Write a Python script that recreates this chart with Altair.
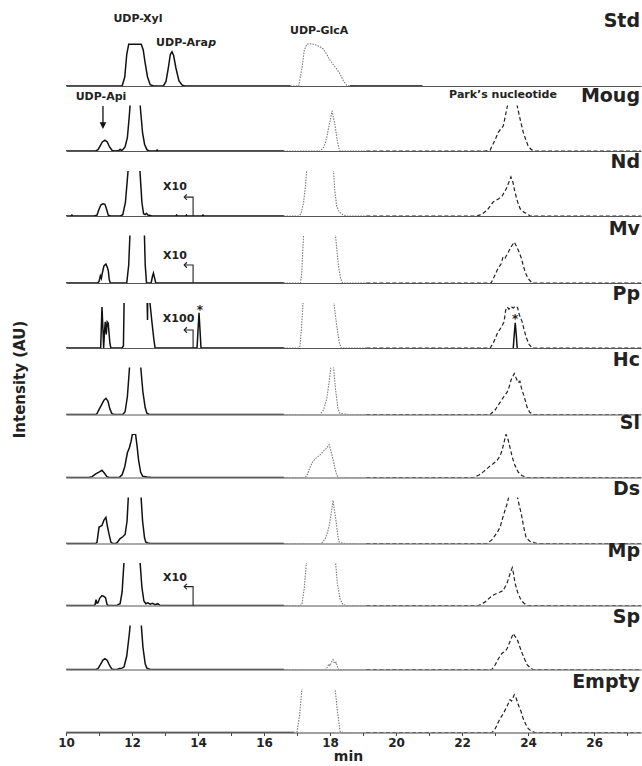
import altair as alt
import pandas as pd

# ---------------- panels ----------------
PANELS = ["Std", "Moug", "Nd", "Mv", "Pp", "Hc", "Sl", "Ds", "Mp", "Sp", "Empty"]
PANEL_HEIGHTS = [45, 45.5, 45, 47.5, 45, 47, 43.5, 46, 42.5, 44, 43.5]
LABEL_V = [131, 109, 107, 107, 107, 107, 107, 107, 107, 103, 99]

X_TICKS = list(range(10, 28))

# ---------------- traces: (min, intensity) ----------------
STD_SOLID = [(10, 0), (11.7, 0), (11.78, 20), (11.84, 70), (11.9, 93), (12.28, 93), (12.34, 80), (12.4, 50),
             (12.47, 20), (12.55, 3), (12.65, 0), (12.95, 0), (13.03, 10), (13.1, 40), (13.16, 70), (13.21, 76),
             (13.26, 68), (13.33, 40), (13.42, 12), (13.52, 2), (13.6, 0), (16.8, 0)]
STD_DOT = [(16.8, 0), (17.05, 0), (17.15, 40), (17.22, 80), (17.3, 93), (17.45, 94), (17.6, 90), (17.7, 87),
           (17.8, 82), (17.9, 70), (18.0, 57), (18.1, 47), (18.2, 38), (18.3, 27), (18.4, 12), (18.5, 2),
           (18.6, 0), (18.8, 0)]
STD_TAIL = [(18.6, 0), (20.8, 0)]

MOUG_SOLID = [(10, 0), (10.9, 0), (10.97, 3), (11.04, 12), (11.1, 20), (11.18, 24), (11.25, 20), (11.32, 9),
              (11.4, 1), (11.5, 0), (11.6, 1), (11.64, 4), (11.68, 1), (11.72, 3), (11.79, 9), (11.86, 30),
              (11.92, 80), (11.97, 130), (12.1, 260), (12.22, 130), (12.26, 90), (12.32, 40), (12.38, 15),
              (12.45, 3), (12.52, 0), (12.74, 0), (12.76, 2), (12.78, 0), (16.6, 0)]
MOUG_DOT = [(16.6, 0), (17.7, 0), (17.8, 8), (17.85, 16), (17.91, 34), (17.97, 57), (18.01, 70), (18.06, 89),
            (18.1, 75), (18.15, 57), (18.21, 27), (18.26, 8), (18.3, 0), (19.1, 0)]
MOUG_DASH = [(19.1, 0), (22.7, 0), (22.85, 2), (23.0, 25), (23.1, 42), (23.25, 56), (23.33, 85), (23.4, 110),
             (23.5, 140), (23.6, 130), (23.67, 100), (23.76, 70), (23.85, 42), (24.0, 11), (24.1, 3),
             (24.2, 0), (27.5, 0)]

ND_SOLID = [(10, 0), (10.16, 0), (10.18, 2), (10.2, 0), (10.85, 0), (10.94, 2), (11.0, 15), (11.06, 25),
            (11.12, 27), (11.18, 26), (11.23, 15), (11.28, 2), (11.35, 0), (11.65, 0), (11.72, 3), (11.8, 30),
            (11.88, 100), (11.95, 250), (12.15, 250), (12.24, 100), (12.3, 30), (12.35, 5), (12.4, 3),
            (12.44, 6), (12.48, 2), (12.55, 1), (12.6, 0), (13.33, 0), (13.35, 2), (13.37, 0), (13.63, 0),
            (13.65, 2), (13.67, 0), (14.13, 0), (14.15, 2), (14.17, 0), (16.6, 0)]
ND_DOT = [(16.6, 0), (17.05, 0), (17.12, 5), (17.2, 31), (17.26, 70), (17.32, 130), (17.5, 200), (17.9, 200),
          (18.08, 130), (18.14, 60), (18.2, 22), (18.28, 9), (18.38, 3), (18.5, 0), (19.1, 0)]
ND_DASH = [(19.1, 0), (22.45, 0), (22.6, 4), (22.76, 13), (22.94, 31), (23.1, 38), (23.21, 44), (23.35, 62),
           (23.48, 87), (23.54, 75), (23.6, 53), (23.68, 32), (23.76, 16), (23.88, 8), (23.97, 5), (24.06, 0),
           (27.5, 0)]

MV_SOLID = [(10, 0), (10.95, 0), (11.0, 3), (11.04, 16), (11.07, 10), (11.1, 22), (11.15, 38), (11.21, 42),
            (11.25, 35), (11.28, 28), (11.31, 8), (11.34, 0), (11.84, 0), (11.9, 40), (11.96, 150),
            (12.0, 300), (12.3, 300), (12.36, 150), (12.4, 40), (12.44, 0), (12.58, 0), (12.62, 15),
            (12.65, 22), (12.68, 12), (12.72, 0), (16.6, 0)]
MV_DOT = [(16.6, 0), (17.1, 0), (17.14, 20), (17.2, 110), (17.3, 250), (18.0, 250), (18.16, 110), (18.25, 40),
          (18.32, 10), (18.38, 0), (19.1, 0)]
MV_DASH = [(19.1, 0), (22.88, 0), (22.98, 15), (23.09, 33), (23.18, 42), (23.24, 58), (23.3, 55), (23.39, 67),
           (23.48, 80), (23.58, 91), (23.63, 84), (23.67, 78), (23.73, 68), (23.79, 56), (23.85, 40),
           (23.91, 24), (24.0, 10), (24.12, 0), (27.5, 0)]

PP_SOLID = [(10, 0), (11.05, 0), (11.09, 91), (11.12, 40), (11.14, 0), (11.17, 40), (11.19, 58), (11.22, 30),
            (11.25, 58), (11.28, 55), (11.33, 10), (11.36, 0), (11.7, 0), (11.74, 5), (11.77, 150),
            (11.8, 300), (12.4, 300), (12.47, 62), (12.5, 300), (12.53, 110), (12.6, 60), (12.66, 20),
            (12.7, 0), (13.97, 0), (14.0, 40), (14.03, 78), (14.06, 40), (14.09, 0), (16.6, 0)]
PP_DOT = [(16.6, 0), (17.05, 0), (17.09, 5), (17.14, 50), (17.19, 110), (17.3, 250), (17.95, 250),
          (18.1, 110), (18.2, 50), (18.28, 12), (18.34, 0), (19.1, 0)]
PP_DASH = [(19.1, 0), (22.85, 0), (22.95, 12), (23.09, 36), (23.18, 45), (23.27, 58), (23.32, 84), (23.37, 91),
           (23.42, 86), (23.48, 92), (23.55, 89), (23.62, 93), (23.68, 90), (23.73, 75), (23.82, 58),
           (23.88, 40), (23.94, 24), (24.03, 8), (24.12, 0), (27.5, 0)]
PP_SPIKE = [(23.55, 0), (23.58, 30), (23.61, 56), (23.64, 30), (23.67, 0)]

HC_SOLID = [(10, 0), (10.9, 0), (10.94, 2), (11.0, 11), (11.08, 22), (11.15, 32), (11.21, 36), (11.27, 30),
            (11.33, 12), (11.39, 2), (11.45, 0), (11.72, 0), (11.79, 6), (11.86, 40), (11.92, 100),
            (11.98, 200), (12.2, 200), (12.27, 100), (12.33, 50), (12.4, 15), (12.45, 3), (12.52, 0), (16.6, 0)]
HC_DOT = [(16.6, 0), (17.7, 0), (17.8, 10), (17.9, 35), (17.97, 71), (18.03, 110), (18.1, 110), (18.16, 60),
          (18.24, 12), (18.3, 3), (18.45, 1), (18.55, 0), (19.1, 0)]
HC_DASH = [(19.1, 0), (22.85, 0), (23.0, 10), (23.15, 27), (23.25, 38), (23.36, 49), (23.42, 60), (23.48, 76),
           (23.54, 85), (23.58, 91), (23.63, 82), (23.7, 71), (23.75, 74), (23.8, 58), (23.85, 47),
           (23.9, 35), (23.97, 16), (24.05, 5), (24.15, 0), (27.5, 0)]

SL_SOLID = [(10, 0), (10.7, 0), (10.79, 2), (10.9, 8), (11.0, 12), (11.09, 16), (11.16, 10), (11.24, 2),
            (11.3, 0), (11.6, 0), (11.64, 2), (11.7, 6), (11.78, 24), (11.86, 55), (11.92, 66), (11.97, 80),
            (12.02, 100), (12.06, 97), (12.1, 100), (12.15, 72), (12.2, 38), (12.26, 12), (12.32, 3),
            (12.45, 1), (12.6, 0), (16.6, 0)]
SL_DOT = [(16.6, 0), (17.25, 0), (17.32, 8), (17.4, 24), (17.48, 36), (17.56, 42), (17.64, 47), (17.72, 52),
          (17.79, 58), (17.88, 64), (17.97, 73), (18.03, 58), (18.09, 40), (18.15, 20), (18.2, 6),
          (18.26, 0), (19.1, 0)]
SL_DASH = [(19.1, 0), (22.35, 0), (22.5, 5), (22.65, 13), (22.79, 22), (22.93, 30), (23.06, 38), (23.15, 48),
           (23.21, 60), (23.27, 78), (23.33, 96), (23.39, 85), (23.45, 67), (23.52, 45), (23.6, 27),
           (23.7, 12), (23.82, 4), (23.97, 0), (27.5, 0)]

DS_SOLID = [(10, 0), (10.9, 0), (10.94, 3), (11.0, 36), (11.04, 38), (11.09, 40), (11.15, 52), (11.21, 58),
            (11.25, 40), (11.3, 22), (11.36, 3), (11.42, 0), (11.5, 0), (11.55, 2), (11.64, 11), (11.72, 15),
            (11.79, 20), (11.85, 50), (11.9, 120), (11.95, 250), (12.2, 250), (12.26, 120), (12.32, 50),
            (12.38, 12), (12.42, 3), (12.48, 1), (12.55, 0), (16.6, 0)]
DS_DOT = [(16.6, 0), (17.7, 0), (17.76, 2), (17.85, 10), (17.91, 22), (17.97, 38), (18.0, 51), (18.04, 70),
          (18.09, 96), (18.13, 75), (18.18, 51), (18.23, 20), (18.27, 4), (18.35, 1), (18.5, 0), (19.1, 0)]
DS_DASH = [(19.1, 0), (22.75, 0), (22.9, 8), (23.06, 24), (23.15, 36), (23.27, 67), (23.35, 85), (23.42, 105),
           (23.5, 125), (23.6, 125), (23.67, 105), (23.73, 85), (23.79, 67), (23.87, 35), (23.94, 13),
           (24.05, 5), (24.27, 0), (27.5, 0)]

MP_SOLID = [(10, 0), (10.85, 0), (10.88, 2), (10.91, 13), (10.94, 5), (10.97, 6), (11.02, 16), (11.09, 22),
            (11.15, 20), (11.2, 17), (11.24, 3), (11.28, 0), (11.55, 0), (11.58, 2), (11.64, 4), (11.7, 30),
            (11.76, 100), (11.82, 250), (12.15, 250), (12.24, 100), (12.3, 40), (12.36, 10), (12.42, 4),
            (12.48, 6), (12.55, 3), (12.62, 5), (12.7, 2), (12.78, 4), (12.85, 0), (16.6, 0)]
MP_DOT = [(16.6, 0), (17.1, 0), (17.15, 3), (17.22, 40), (17.3, 110), (17.5, 250), (17.95, 250), (18.15, 110),
          (18.22, 50), (18.3, 15), (18.39, 2), (18.5, 0), (19.1, 0)]
MP_DASH = [(19.1, 0), (22.5, 0), (22.7, 8), (22.91, 22), (23.05, 27), (23.15, 30), (23.24, 33), (23.36, 49),
           (23.45, 70), (23.52, 84), (23.56, 70), (23.6, 51), (23.68, 30), (23.76, 16), (23.86, 6),
           (23.97, 0), (27.5, 0)]

SP_SOLID = [(10, 0), (10.9, 0), (10.97, 2), (11.05, 12), (11.12, 21), (11.18, 24), (11.25, 20), (11.32, 9),
            (11.39, 1), (11.45, 0), (11.55, 0), (11.62, 2), (11.7, 3), (11.76, 6), (11.84, 30), (11.92, 80),
            (11.97, 120), (12.05, 250), (12.2, 250), (12.27, 110), (12.33, 50), (12.4, 12), (12.45, 3),
            (12.55, 0), (16.6, 0)]
SP_DOT = [(16.6, 0), (17.85, 0), (17.91, 4), (17.96, 12), (18.0, 8), (18.04, 16), (18.09, 22), (18.13, 13),
          (18.18, 16), (18.23, 5), (18.27, 0), (19.1, 0)]
SP_DASH = [(19.1, 0), (22.9, 0), (23.0, 10), (23.1, 24), (23.21, 36), (23.3, 40), (23.36, 46), (23.45, 62),
           (23.55, 80), (23.6, 74), (23.67, 67), (23.75, 50), (23.82, 36), (23.9, 22), (23.97, 11),
           (24.06, 4), (24.15, 0), (27.5, 0)]

EMPTY_SOLID = [(10, 0), (16.9, 0)]
EMPTY_DOT = [(16.9, 0), (17.0, 2), (17.08, 40), (17.15, 100), (17.25, 250), (18.0, 250), (18.15, 100),
             (18.22, 50), (18.3, 3), (18.4, 0), (19.1, 0)]
EMPTY_DASH = [(19.1, 0), (22.91, 0), (23.0, 8), (23.15, 31), (23.25, 42), (23.36, 58), (23.45, 73), (23.5, 70),
              (23.58, 84), (23.63, 78), (23.7, 62), (23.78, 48), (23.85, 31), (23.93, 18), (24.0, 9),
              (24.1, 3), (24.21, 0), (27.5, 0)]

SEGMENTS = {
    "Std": [("solid", STD_SOLID), ("dot", STD_DOT), ("solid", STD_TAIL)],
    "Moug": [("solid", MOUG_SOLID), ("dot", MOUG_DOT), ("dash", MOUG_DASH)],
    "Nd": [("solid", ND_SOLID), ("dot", ND_DOT), ("dash", ND_DASH)],
    "Mv": [("solid", MV_SOLID), ("dot", MV_DOT), ("dash", MV_DASH)],
    "Pp": [("solid", PP_SOLID), ("dot", PP_DOT), ("dash", PP_DASH), ("solid", PP_SPIKE)],
    "Hc": [("solid", HC_SOLID), ("dot", HC_DOT), ("dash", HC_DASH)],
    "Sl": [("solid", SL_SOLID), ("dot", SL_DOT), ("dash", SL_DASH)],
    "Ds": [("solid", DS_SOLID), ("dot", DS_DOT), ("dash", DS_DASH)],
    "Mp": [("solid", MP_SOLID), ("dot", MP_DOT), ("dash", MP_DASH)],
    "Sp": [("solid", SP_SOLID), ("dot", SP_DOT), ("dash", SP_DASH)],
    "Empty": [("solid", EMPTY_SOLID), ("dot", EMPTY_DOT), ("dash", EMPTY_DASH)],
}

# ---------------- annotations ----------------
ANN_PANEL = ["Std", "Std", "Std", "Std", "Moug", "Moug", "Nd", "Mv", "Pp", "Mp", "Pp", "Pp"]
ANN_TEXT = ["UDP-Xyl", "UDP-Ara", "p", "UDP-GlcA", "UDP-Api", "Park\u2019s nucleotide",
            "X10", "X10", "X100", "X10", "*", "*"]
ANN_T = [12.18, 14.3, 14.31, 17.67, 11.06, 23.24, 13.3, 13.3, 13.41, 13.3, 14.06, 23.61]
ANN_V = [149, 96, 96, 122, 120, 124, 64, 60, 64, 62, 75, 55]
ANN_ALIGN = ["center", "right", "left", "center", "center", "center",
             "center", "center", "center", "center", "center", "center"]
ANN_ITALIC = [False, False, True, False, False, False, False, False, False, False, False, False]
ANN_BASE = ["middle"] * 10 + ["alphabetic", "alphabetic"]

HOOK_PANEL = ["Nd", "Mv", "Pp", "Mp"]
HOOK_T = [13.85, 13.85, 13.85, 13.85]
HOOK_TIP_T = [13.58, 13.58, 13.58, 13.58]
HOOK_V = [42, 40, 40, 42]

API_ARROW_T = 11.12
API_ARROW_TOP = 100
API_ARROW_TIP = 49

W = 575
X_DOMAIN = [10, 27.42]
PX_PER_UNIT = 0.45
FONT = "DejaVu Sans"

rows = []
for p in PANELS:
    for k, (style, pts) in enumerate(SEGMENTS[p]):
        for o, (t, v) in enumerate(pts):
            rows.append({"panel": p, "seg": f"{p}-{k}", "style": style, "t": t, "v": v, "o": o})
traces = pd.DataFrame(rows)

ann = pd.DataFrame({"panel": ANN_PANEL, "text": ANN_TEXT, "t": ANN_T, "v": ANN_V,
                    "align": ANN_ALIGN, "italic": ANN_ITALIC, "base": ANN_BASE})

hook_rows = []
for p, t0, t1, hv in zip(HOOK_PANEL, HOOK_T, HOOK_TIP_T, HOOK_V):
    hook_rows += [{"panel": p, "t": t0, "v": 0, "o": 0},
                  {"panel": p, "t": t0, "v": hv, "o": 1},
                  {"panel": p, "t": t1, "v": hv, "o": 2}]
hooks = pd.DataFrame(hook_rows)
tips = pd.DataFrame({"panel": HOOK_PANEL, "t": HOOK_TIP_T, "v": HOOK_V})

STYLES = {
    "solid": dict(color="#111111", strokeWidth=1.5),
    "dot": dict(color="#7a7a7a", strokeWidth=1.1, strokeDash=[1.5, 1.2]),
    "dash": dict(color="#222222", strokeWidth=1.2, strokeDash=[4, 2.5]),
}

panels = []
n = len(PANELS)
for i, p in enumerate(PANELS):
    h = PANEL_HEIGHTS[i]
    ysc = alt.Scale(domain=[0, h / PX_PER_UNIT], nice=False, zero=True)
    last = i == n - 1
    if last:
        xaxis = alt.Axis(values=X_TICKS, labelExpr="datum.value % 2 == 0 ? datum.label : ''",
                         tickSize=3, tickColor="#444", domainColor="#444", grid=False,
                         labelFont=FONT, labelFontWeight="bold", labelFontSize=12, labelColor="#222",
                         labelPadding=2, labelFlush=False, labelOverlap=False,
                         title="min", titleFont=FONT, titleFontWeight="bold", titleFontSize=14,
                         titleColor="#222", titlePadding=1, titleX=282)
    else:
        xaxis = alt.Axis(labels=False, ticks=False, title=None, domainColor="#555", grid=False)
    X = alt.X("t:Q", scale=alt.Scale(domain=X_DOMAIN, nice=False, zero=False), axis=xaxis)
    Y = alt.Y("v:Q", scale=ysc, axis=None)

    layers = []
    tp = traces[traces["panel"] == p]
    for style in ["dot", "dash", "solid"]:
        sub = tp[tp["style"] == style]
        if len(sub) == 0:
            continue
        layers.append(alt.Chart(sub).mark_line(clip=True, **STYLES[style]).encode(
            x=X, y=Y, detail="seg:N", order="o:Q"))

    hp = hooks[hooks["panel"] == p]
    if len(hp):
        layers.append(alt.Chart(hp).mark_line(color="#222", strokeWidth=1.1).encode(x=X, y=Y, order="o:Q"))
        layers.append(alt.Chart(tips[tips["panel"] == p]).mark_point(
            shape="M1,-1L0,0L1,1", filled=False, size=30, color="#222", strokeWidth=1.1, opacity=1
        ).encode(x=X, y=Y))

    if p == "Moug":
        arr = pd.DataFrame({"t": [API_ARROW_T, API_ARROW_T], "v": [API_ARROW_TOP, API_ARROW_TIP + 6], "o": [0, 1]})
        layers.append(alt.Chart(arr).mark_line(color="#111", strokeWidth=1.3).encode(x=X, y=Y, order="o:Q"))
        head = pd.DataFrame({"t": [API_ARROW_T], "v": [API_ARROW_TIP]})
        layers.append(alt.Chart(head).mark_point(
            shape="M-1,-2L1,-2L0,0Z", filled=True, size=45, color="#111", opacity=1
        ).encode(x=X, y=Y))

    ap = ann[ann["panel"] == p]
    for (align, italic, base), g in ap.groupby(["align", "italic", "base"]):
        layers.append(alt.Chart(g).mark_text(
            align=align, baseline=base, font=FONT, fontWeight="bold", fontSize=11 if g["text"].iloc[0] != "*" else 12,
            fontStyle="italic" if italic else "normal", color="#222"
        ).encode(x=X, y=Y, text="text:N"))

    lab = pd.DataFrame({"label": [p], "v": [LABEL_V[i]]})
    layers.append(alt.Chart(lab).mark_text(
        align="right", baseline="alphabetic", font=FONT, fontWeight="bold", fontSize=19, color="#222"
    ).encode(x=alt.value(W - 1), y=Y, text="label:N"))

    if p == "Hc":
        ttl = pd.DataFrame({"label": ["Intensity (AU)"]})
        layers.append(alt.Chart(ttl).mark_text(
            align="center", baseline="middle", angle=270, font=FONT, fontWeight="bold", fontSize=15,
            color="#222"
        ).encode(x=alt.value(-46), y=alt.value(12), text="label:N"))

    panels.append(alt.layer(*layers).properties(width=W, height=h))

chart = alt.vconcat(*panels, spacing=19.5, bounds="flush").properties(
    padding={"left": 12, "top": 12, "right": 1, "bottom": 2}
).configure_view(stroke=None)

chart.save("out.html", embed_options={"renderer": "svg", "actions": False})
